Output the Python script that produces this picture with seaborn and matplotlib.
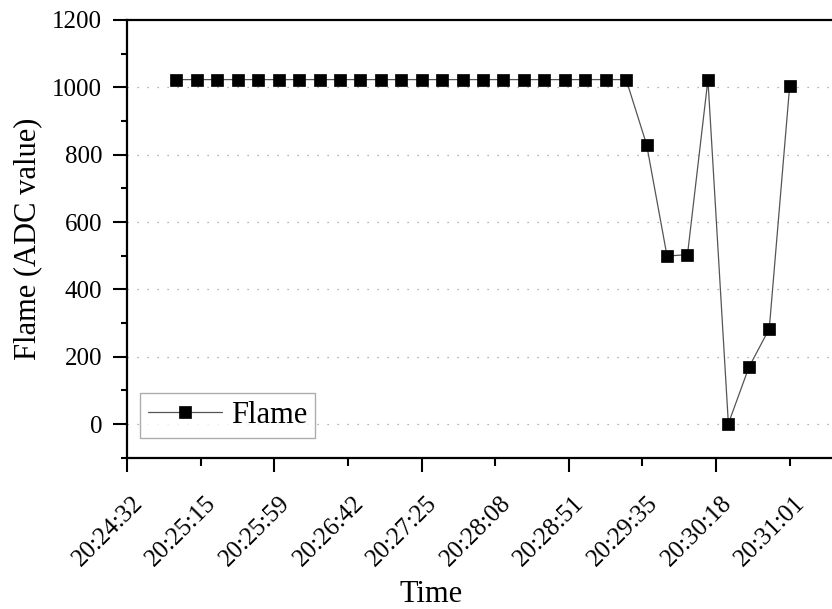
import matplotlib
matplotlib.use("Agg")
import matplotlib.pyplot as plt
import matplotlib.transforms as mtransforms
from matplotlib.ticker import MultipleLocator
import pandas as pd
import seaborn as sns

# Sample timestamps (12 s apart) and flame sensor readings
times = [
    "20:25:01", "20:25:13", "20:25:25", "20:25:37", "20:25:49", "20:26:01",
    "20:26:13", "20:26:25", "20:26:37", "20:26:49", "20:27:01", "20:27:13",
    "20:27:25", "20:27:37", "20:27:49", "20:28:01", "20:28:13", "20:28:25",
    "20:28:37", "20:28:49", "20:29:01", "20:29:13", "20:29:25", "20:29:37",
    "20:29:49", "20:30:01", "20:30:13", "20:30:25", "20:30:37", "20:30:49",
    "20:31:01",
]
flame = [
    1023, 1023, 1023, 1023, 1023, 1023, 1023, 1023, 1023, 1023, 1023, 1023,
    1023, 1023, 1023, 1023, 1023, 1023, 1023, 1023, 1023, 1023, 1023, 830,
    499, 503, 1023, 1, 168, 283, 1005,
]
tick_labels = [
    "20:24:32", "20:25:15", "20:25:59", "20:26:42", "20:27:25",
    "20:28:08", "20:28:51", "20:29:35", "20:30:18", "20:31:01",
]


def to_seconds(s):
    h, m, sec = (int(v) for v in s.split(":"))
    return h * 3600 + m * 60 + sec


df = pd.DataFrame({"t": [to_seconds(t) for t in times], "Flame": flame})

sns.set_theme(style="white")
plt.rcParams["font.family"] = ["Liberation Serif", "DejaVu Serif"]
plt.rcParams["text.color"] = "black"
plt.rcParams["axes.labelcolor"] = "black"
plt.rcParams["xtick.color"] = "black"
plt.rcParams["ytick.color"] = "black"

fig = plt.figure(figsize=(8.32, 6.09), dpi=100)
ax = fig.add_axes([127 / 832, 1 - 457.7 / 609, 1 - 127 / 832 + 0.002, (457.7 - 20) / 609])

sns.lineplot(
    data=df, x="t", y="Flame", ax=ax, color="#555555", linewidth=0.9,
    marker="s", markersize=8, markerfacecolor="black", markeredgecolor="black",
    markeredgewidth=0.5, label="Flame", zorder=3,
)

# x axis: first tick at 20:24:32, ticks ~43.2 s apart
t0 = to_seconds(tick_labels[0])
step = 389 / 9
tick_pos = [t0 + i * step for i in range(len(tick_labels))]
ax.set_xlim(t0, t0 + (833 - 127) / 1.702)
ax.set_xticks(tick_pos)
ax.set_xticklabels([])
label_shift = mtransforms.ScaledTranslation(0.20, -0.34, fig.dpi_scale_trans)
label_trans = mtransforms.blended_transform_factory(ax.transData, ax.transAxes) + label_shift
for pos, text in zip(tick_pos, tick_labels):
    ax.text(pos, 0, text, transform=label_trans, rotation=45, ha="right",
            va="top", fontsize=18, color="black", clip_on=False)

ax.set_ylim(-100, 1200)
ax.yaxis.set_major_locator(MultipleLocator(200))
ax.yaxis.set_minor_locator(MultipleLocator(100))
ax.tick_params(axis="y", which="major", direction="out", length=10, width=1.5,
               labelsize=18, left=True, pad=8)
ax.tick_params(axis="y", which="minor", direction="out", length=4, width=1.5, left=True)
ax.tick_params(axis="x", which="major", direction="out", length=10, width=1.5,
               bottom=True)
# alternate long and short tick marks along the time axis
for i, tk in enumerate(ax.xaxis.get_major_ticks()):
    tk.tick1line.set_markersize(10 if i % 2 == 0 else 6)

for y in range(0, 1001, 200):
    ax.axhline(y, color="#9a9a9a", linewidth=0.9, linestyle=(0, (1, 7)), zorder=1)

for side in ("left", "bottom", "top"):
    ax.spines[side].set_visible(True)
    ax.spines[side].set_color("black")
    ax.spines[side].set_linewidth(1.6)
ax.spines["right"].set_visible(False)

ax.set_xlabel("Time", fontsize=22)
ax.xaxis.label.set_va("center")
ax.xaxis.set_label_coords(0.43, -0.312)
ax.set_ylabel("Flame (ADC value)", fontsize=22)
ax.yaxis.label.set_va("center")
ax.yaxis.set_label_coords(-0.14, 0.5)

leg = ax.legend(loc="lower left", bbox_to_anchor=(0.019, 0.046), fontsize=22,
                frameon=True, fancybox=False, handlelength=2.4, handletextpad=0.3,
                borderpad=0.26, borderaxespad=0)
leg.get_frame().set_edgecolor("#999999")
leg.get_frame().set_linewidth(1.0)

fig.savefig("out.png", dpi=100)
